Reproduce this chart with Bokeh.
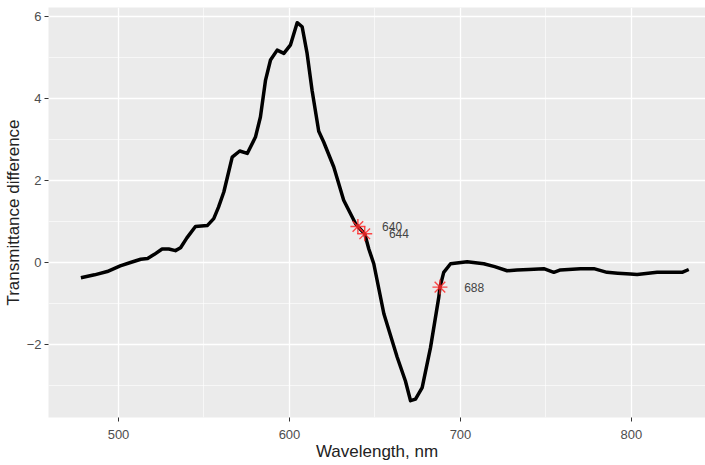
from bokeh.plotting import figure
from bokeh.models import Range1d, FixedTicker, ColumnDataSource
from bokeh.embed import file_html
from bokeh.resources import INLINE
from bokeh.core.properties import value

# Spectrum (wavelength, nm) and transmittance difference
wavelength = [478, 486, 493.4, 501, 507, 513, 517, 521, 525.5, 529.4, 533.3, 536.3,
              540, 545, 551.9, 555.7, 558.5, 561.6, 566.5, 570.9, 575.3, 580.1, 583,
              586, 588.9, 592.8, 596.7, 600.6, 604.5, 607.4, 610.3, 613.2, 617.1,
              620, 625.9, 631.7, 638.6, 640, 644, 646.4, 649.3, 655.2, 663, 667.8,
              670.8, 673.7, 677.6, 682.5, 687.3, 688, 690.2, 694.2, 703.9, 713.6,
              720, 727.3, 733.1, 740, 748.7, 754.6, 758.5, 770.2, 778, 785.7, 792,
              799.4, 803.3, 815, 829.6, 833.5]
trans_diff = [-0.37, -0.3, -0.22, -0.08, 0.0, 0.08, 0.1, 0.2, 0.33, 0.33, 0.29, 0.36,
              0.6, 0.88, 0.9, 1.07, 1.35, 1.72, 2.57, 2.72, 2.66, 3.06, 3.55,
              4.45, 4.94, 5.18, 5.1, 5.31, 5.85, 5.75, 5.1, 4.2, 3.2,
              2.94, 2.33, 1.52, 0.95, 0.88, 0.70, 0.33, -0.03, -1.25, -2.31, -2.89,
              -3.37, -3.33, -3.05, -2.07, -0.85, -0.60, -0.24, -0.03, 0.02, -0.03,
              -0.1, -0.2, -0.18, -0.17, -0.15, -0.24, -0.18, -0.15, -0.15, -0.24, -0.26,
              -0.28, -0.29, -0.24, -0.24, -0.17]

# Marked points
mark_wl = [640, 644, 688]
mark_val = [0.88, 0.70, -0.60]
mark_lbl = ["640", "644", "688"]

x_ticks = [500, 600, 700, 800]
x_minor = [450, 550, 650, 750, 850]
y_ticks = [-2, 0, 2, 4, 6]
y_minor = [-3, -1, 1, 3, 5]

p = figure(width=705, height=465, output_backend="svg", toolbar_location=None,
           x_range=Range1d(459.06, 843.3), y_range=Range1d(-3.78, 6.22),
           min_border_left=48, min_border_top=7, min_border_right=0, min_border_bottom=48)
p.background_fill_color = "#EBEBEB"
p.border_fill_color = "white"
p.outline_line_color = None

p.xaxis.ticker = FixedTicker(ticks=x_ticks, minor_ticks=x_minor)
p.yaxis.ticker = FixedTicker(ticks=y_ticks, minor_ticks=y_minor)

for g in (p.xgrid, p.ygrid):
    g.grid_line_color = "white"
    g.grid_line_width = 1.3
    g.minor_grid_line_color = "white"
    g.minor_grid_line_width = 0.6

for ax in (p.xaxis, p.yaxis):
    ax.axis_line_color = None
    ax.minor_tick_line_color = None
    ax.major_tick_line_color = "#333333"
    ax.major_tick_out = 4
    ax.major_tick_in = 0
    ax.major_label_text_font = "Liberation Sans"
    ax.major_label_text_font_size = "13px"
    ax.major_label_text_color = "#4D4D4D"
    ax.axis_label_text_font = "Liberation Sans"
    ax.axis_label_text_font_size = "17px"
    ax.axis_label_text_font_style = "normal"
    ax.axis_label_text_color = "#222222"

p.xaxis.axis_label = "Wavelength, nm"
p.yaxis.axis_label = "Transmittance difference"
p.xaxis.major_label_standoff = 8
p.xaxis.axis_label_standoff = 0
p.yaxis.major_label_standoff = 3
p.yaxis.axis_label_standoff = 1

p.line(wavelength, trans_diff, line_color="black", line_width=3.5, line_join="round")

p.scatter(mark_wl, mark_val, marker="asterisk", size=15, line_color="#FF2A2A",
          line_width=1.4, line_alpha=0.85)

nudge = 20
src = ColumnDataSource(dict(x=[w + nudge for w in mark_wl], y=mark_val, t=mark_lbl))
p.text(x="x", y="y", text="t", source=src, text_align="center", text_baseline="middle",
       text_font=value("Liberation Sans"), text_font_size="12px", text_color="#444444")

open("out.html", "w").write(file_html(p, INLINE))
